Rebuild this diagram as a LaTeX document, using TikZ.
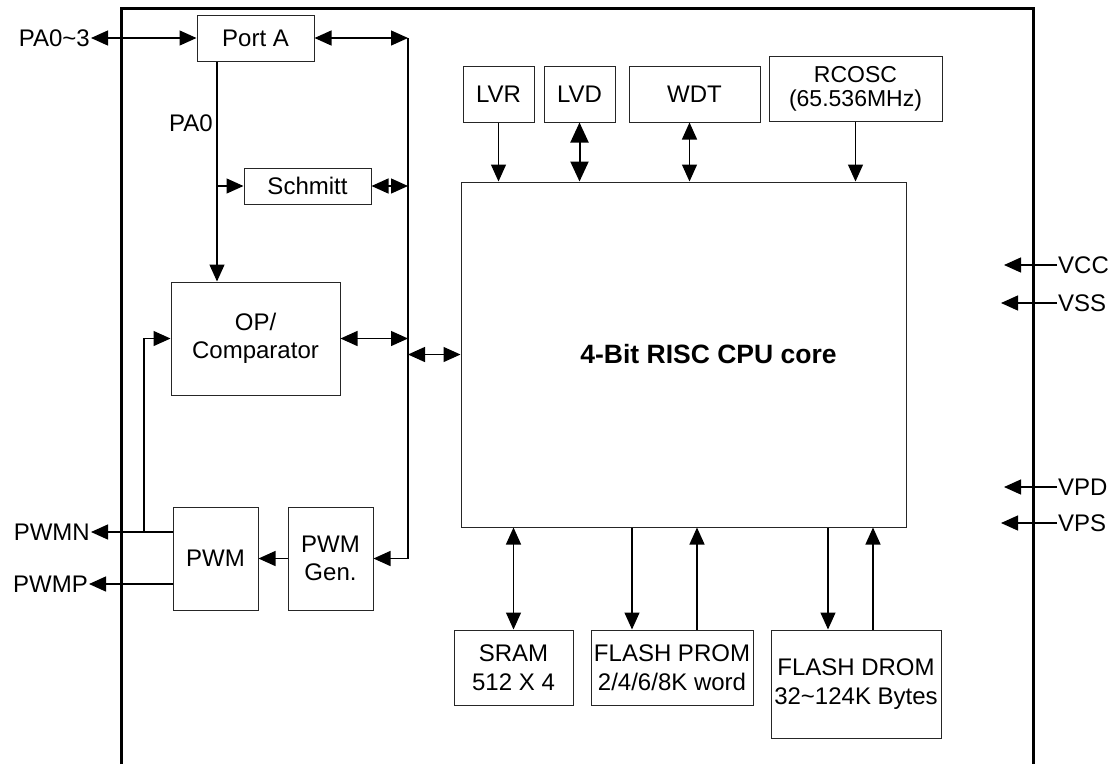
\documentclass[tikz,border=0pt]{standalone}
\usepackage{fontspec}
\setmainfont{Liberation Sans}
\usetikzlibrary{arrows.meta, positioning, calc}

\begin{document}
\begin{tikzpicture}[
    x=1pt, y=-1pt,
    font=\fontsize{24}{28.5}\selectfont,
    box/.style={rectangle, draw=black!85, line width=1pt, align=center, inner sep=2pt},
    lbl/.style={inner sep=1pt},
    wire/.style={line width=1.3pt},
    arrow/.style={wire, -{Triangle[length=17pt, width=15pt]}},
    dblarrow/.style={wire, {Triangle[length=17pt, width=15pt]}-{Triangle[length=17pt, width=15pt]}},
    bigdbl/.style={line width=2pt, {Triangle[length=20pt, width=18pt]}-{Triangle[length=20pt, width=18pt]}},
    chip/.style={line width=3pt},
  ]
  \useasboundingbox (0,0) rectangle (1115,764);

  % chip outline
  \draw[chip] (121,764) -- (121,8) -- (1033,8) -- (1033,764);

  % left side blocks
  \node[box, minimum width=117pt, minimum height=46pt]  (porta)   at (255.5,38)    {Port A};
  \node[box, minimum width=127pt, minimum height=36pt]  (schmitt) at (307.5,186)   {Schmitt};
  \node[box, minimum width=169pt, minimum height=113pt] (opcomp)  at (255.5,338.5) {OP/\\Comparator};
  \node[box, minimum width=85pt, minimum height=103pt]  (pwm)     at (215.5,558.5) {PWM};
  \node[box, minimum width=85pt, minimum height=103pt]  (pwmgen)  at (330.5,558.5) {PWM\\Gen.};

  % core and peripherals
  \node[box, minimum width=445pt, minimum height=345pt] (cpu)     at (683.5,354.5) {};
  \node[font=\fontsize{26.5}{30}\selectfont\bfseries]  (cputxt)  at ([xshift=25pt]cpu.center) {4-Bit RISC CPU core};
  \node[box, minimum width=71pt, minimum height=56pt]   (lvr)     at (498.5,94)    {LVR};
  \node[box, minimum width=71pt, minimum height=56pt]   (lvd)     at (579.5,94)    {LVD};
  \node[box, minimum width=131pt, minimum height=56pt]  (wdt)     at (694.5,94)    {WDT};
  \node[box, minimum width=173pt, minimum height=65pt, font=\fontsize{23}{24}\selectfont]
                                                        (rcosc)   at (855.5,88.5)  {RCOSC\\(65.536MHz)};
  \node[box, minimum width=119pt, minimum height=75pt]  (sram)    at (513.5,667.5) {SRAM\\512 X 4};
  \node[box, minimum width=162pt, minimum height=75pt]  (prom)    at (672,667.5)   {FLASH PROM\\2/4/6/8K word};
  \node[box, minimum width=170pt, minimum height=108pt] (drom)    at (856,684)     {FLASH DROM\\32\textasciitilde124K Bytes};

  % pin labels
  \node[lbl, anchor=east] (pa03lbl) at (91,38)   {PA0\textasciitilde3};
  \node[lbl, anchor=east] (pa0lbl)  at (214,123) {PA0};
  \node[lbl, anchor=east] (pwmnlbl) at (91,532)  {PWMN};
  \node[lbl, anchor=east] (pwmplbl) at (89,584)  {PWMP};

  \coordinate (bustop) at (408,38);
  \coordinate (fb)     at (144,532);
  \coordinate (pwmn)   at (173,532);
  \coordinate (pwmp)   at (173,584);

  % port A, bus and analog side
  \draw[dblarrow] (pa03lbl.east) -- (porta.west);
  \draw[dblarrow] (porta.east) -- (bustop);
  \draw[wire] (bustop) -- (pwmgen.east -| bustop);
  \draw[arrow] ([xshift=-38.5pt]porta.south) coordinate (pa0) -- (pa0 |- opcomp.north);
  \draw[arrow] (pa0 |- schmitt.west) -- (schmitt.west);
  \draw[dblarrow] (schmitt.east) -- (schmitt.east -| bustop);
  \draw[dblarrow] (opcomp.east) -- (opcomp.east -| bustop);
  \draw[dblarrow] (cpu.west -| bustop) -- (cpu.west);
  \draw[arrow] (pwmgen.east -| bustop) -- (pwmgen.east);
  \draw[arrow] (pwmgen.west) -- (pwm.east);
  \draw[arrow] (pwmn) -- (pwmnlbl.east);
  \draw[arrow] (pwmp) -- (pwmplbl.east);
  \draw[arrow] (fb) |- (opcomp.west);

  % peripherals to core
  \draw[arrow] (lvr.south) -- (lvr.south |- cpu.north);
  \draw[bigdbl] (lvd.south) -- (lvd.south |- cpu.north);
  \draw[dblarrow] ([xshift=-5pt]wdt.south) -- ([xshift=-5pt]wdt.south |- cpu.north);
  \draw[arrow] (rcosc.south) -- (rcosc.south |- cpu.north);

  % memories
  \draw[dblarrow] (sram.north |- cpu.south) -- (sram.north);
  \draw[arrow] ([xshift=-40pt]prom.north |- cpu.south) -- ([xshift=-40pt]prom.north);
  \draw[arrow] ([xshift=25pt]prom.north) -- ([xshift=25pt]prom.north |- cpu.south);
  \draw[arrow] ([xshift=-28pt]drom.north |- cpu.south) -- ([xshift=-28pt]drom.north);
  \draw[arrow] ([xshift=17pt]drom.north) -- ([xshift=17pt]drom.north |- cpu.south);

  % supply pins
  \foreach \pin/\y/\tip in {VCC/265/1004, VSS/303/1001, VPD/487/1004, VPS/523/1001}{
    \node[lbl, anchor=west] (\pin) at (1057,\y) {\pin};
    \coordinate (\pin tip) at (\tip,\y);
    \draw[arrow] (\pin.west) -- (\pin tip);
  }
\end{tikzpicture}
\end{document}
